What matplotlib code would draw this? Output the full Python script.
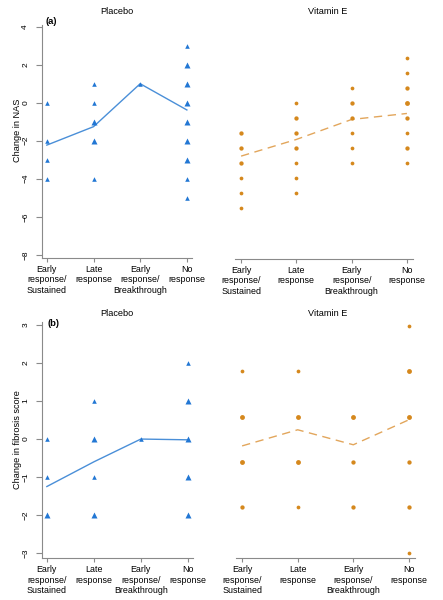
import matplotlib
matplotlib.use("Agg")
import matplotlib.pyplot as plt
from collections import Counter

plt.rcParams["font.family"] = ["Liberation Sans", "DejaVu Sans"]

categories = ["Early\nresponse/\nSustained", "Late\nresponse",
              "Early\nresponse/\nBreakthrough", "No\nresponse"]

# (a) change in NAS, one list per response group
nas_placebo = [[0, -2, -3, -4],
               [1, 0, -1, -1, -2, -2, -4],
               [1],
               [3, 2, 2, 1, 1, 1, 0, 0, 0, -1, -1, -1, -2, -2, -3, -3, -4, -5]]
nas_placebo_mean = [-2.23, -1.26, 1.0, -0.38]
nas_vite = [[-2, -2, -3, -3, -4, -4, -5, -6, -7],
            [0, -1, -1, -2, -2, -3, -3, -4, -5, -6],
            [1, 0, 0, -1, -1, -2, -3, -4],
            [3, 2, 1, 1, 0, 0, 0, -1, -1, -2, -3, -3, -4]]
nas_vite_mean = [-3.55, -2.44, -1.11, -0.71]

# (b) change in fibrosis score
fib_placebo = [[0, -1, -2, -2],
               [1, 0, 0, 0, -1, -2, -2],
               [0],
               [2, 1, 1, 1, 0, 0, 0, -1, -1, -1, -2, -2]]
fib_placebo_mean = [-1.25, -0.6, 0.0, -0.02]
fib_vite = [[1, 0, 0, 0, -1, -1, -1, -2, -2],
            [1, 0, 0, 0, -1, -1, -1, -2],
            [0, 0, 0, -1, -1, -2, -2],
            [2, 1, 1, 1, 0, 0, 0, -1, -1, -2, -2, -3]]
fib_vite_mean = [-0.645, -0.29, -0.62, -0.07]

BLUE, BLUE_LINE = "#2277d4", "#4a8fd8"
ORANGE, ORANGE_LINE = "#d5881d", "#e2a65c"
GREY = "#8a8a8a"

W, H = 443, 600
fig = plt.figure(figsize=(W / 100, H / 100), dpi=100)


def px_axes(l, t, r, b):
    return fig.add_axes([l / W, 1 - b / H, (r - l) / W, (b - t) / H])


def draw(ax, groups, means, marker, color, lcolor, ls, ms):
    xs = range(1, len(groups) + 1)
    for x, vals in zip(xs, groups):
        for v, c in Counter(vals).items():
            ax.plot(x, v, marker=marker, color=color, ms=ms * (1 + 0.15 * (c - 1)),
                    mec="none", ls="none", zorder=3)
    ax.plot(list(xs), means, color=lcolor, lw=1.0, ls=ls, zorder=2,
            dashes=(6, 4) if ls == "--" else (None, None))
    ax.set_xlim(0.89, 4.11)
    ax.set_xticks(list(xs))
    ax.set_xticklabels(categories, fontsize=6.4)
    ax.tick_params(axis="x", length=3, width=0.8, color=GREY, pad=2)
    for s in ["top", "right"]:
        ax.spines[s].set_visible(False)
    ax.spines["bottom"].set_color(GREY)
    ax.spines["left"].set_color(GREY)
    ax.patch.set_alpha(0)


def style_left(ax, ticks, label, label_y):
    ax.set_yticks(ticks)
    ax.set_yticklabels([str(t).replace("-", "\u2212") for t in ticks],
                       rotation=90, va="center", fontsize=6)
    ax.tick_params(axis="y", length=4, width=0.8, color=GREY, pad=5)
    fig.text(18 / W, 1 - label_y / H, label, rotation=90, ha="center",
             va="center", fontsize=6.6)


def hide_left(ax):
    ax.spines["left"].set_visible(False)
    ax.set_yticks([])


# panel (a)
ax1 = px_axes(41.7, 25, 192, 258)
draw(ax1, nas_placebo, nas_placebo_mean, "^", BLUE, BLUE_LINE, "-", 3.3)
ax1.set_ylim(-8.17, 4.09)
style_left(ax1, [-8, -6, -4, -2, 0, 2, 4], "Change in NAS", 130)

ax2 = px_axes(235, 25, 413, 259)
draw(ax2, nas_vite, nas_vite_mean, "o", ORANGE, ORANGE_LINE, "--", 2.7)
ax2.set_ylim(-10.4, 5.18)
hide_left(ax2)

# panel (b)
ax3 = px_axes(41.7, 321.7, 193, 558.3)
draw(ax3, fib_placebo, fib_placebo_mean, "^", BLUE, BLUE_LINE, "-", 3.3)
ax3.set_ylim(-3.14, 3.09)
style_left(ax3, [-3, -2, -1, 0, 1, 2, 3], "Change in fibrosis score", 440)

ax4 = px_axes(236, 321.7, 415, 558.3)
draw(ax4, fib_vite, fib_vite_mean, "o", ORANGE, ORANGE_LINE, "--", 2.7)
ax4.set_ylim(-3.12, 2.09)
hide_left(ax4)

# titles and panel letters
fig.text(117 / W, 1 - 12 / H, "Placebo", ha="center", va="center", fontsize=6.6)
fig.text(328 / W, 1 - 12 / H, "Vitamin E", ha="center", va="center", fontsize=6.6)
fig.text(117 / W, 1 - 314 / H, "Placebo", ha="center", va="center", fontsize=6.6)
fig.text(328 / W, 1 - 314 / H, "Vitamin E", ha="center", va="center", fontsize=6.6)
fig.text(46 / W, 1 - 22 / H, "(a)", ha="left", va="center", fontsize=6.8,
         fontweight="bold")
fig.text(47 / W, 1 - 324 / H, "(b)", ha="left", va="center", fontsize=6.8,
         fontweight="bold")

fig.savefig("out.png", dpi=100)
